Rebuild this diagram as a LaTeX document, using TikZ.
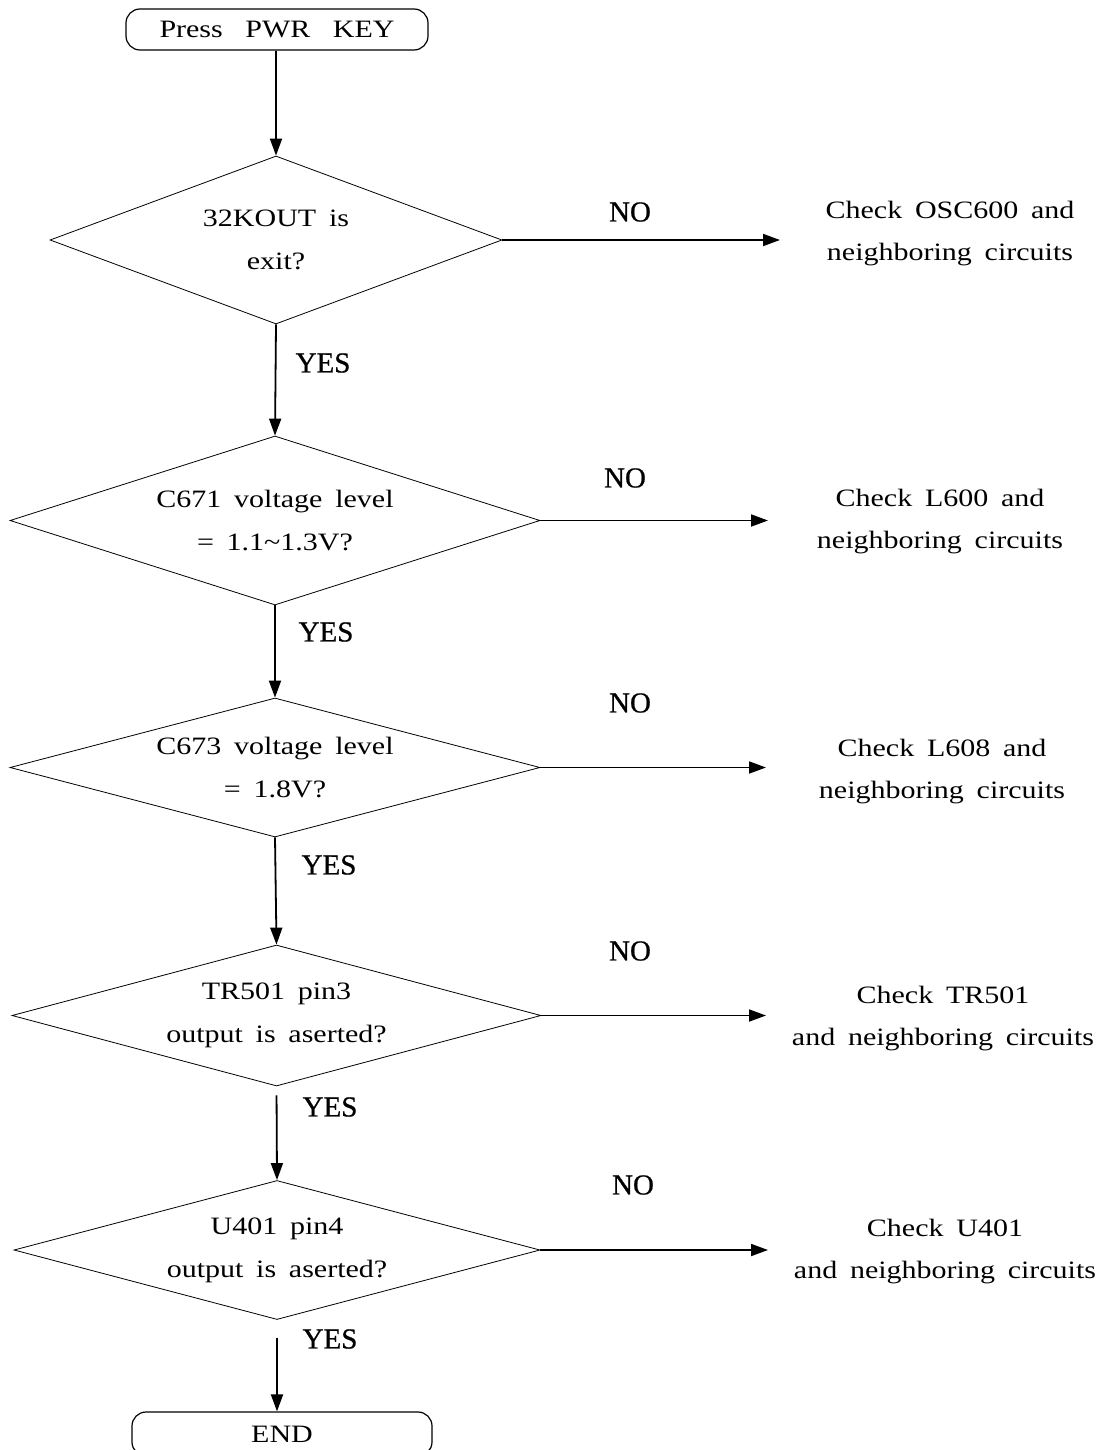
\documentclass[tikz,border=0pt]{standalone}
\usepackage{fontspec}
\setmainfont{Liberation Serif}[FakeStretch=1.2,WordSpace=1.7]
\newfontfamily\lblfont{Liberation Serif}[FakeBold=0.7]
\usetikzlibrary{shapes.geometric,arrows.meta}
\begin{document}
\begin{tikzpicture}[x=1pt,y=-1pt,
  txt/.style={font=\fontsize{25}{42}\selectfont,align=center,inner sep=0pt},
  term/.style={draw,line width=1.2pt,rounded corners=14pt,minimum height=41pt,inner sep=0pt,font=\fontsize{25}{30}\selectfont},
  dec/.style={draw,diamond,line width=0.8pt,inner sep=0pt,font=\fontsize{25}{43}\selectfont,align=center},
  conn/.style={line width=1.8pt,-{Triangle[length=17pt,width=12pt]}},
  lbl/.style={font=\lblfont\fontsize{29}{30}\selectfont,inner sep=0pt}
]
\useasboundingbox (0,0) rectangle (1107,1450);
% terminals
\node[term,minimum width=302pt] (start) at (277,29.5) {Press\hspace{0.9em}PWR\hspace{0.9em}KEY};
\node[term,minimum width=300pt,minimum height=44pt] (end) at (282,1434) {END};
% decisions
\node[dec,aspect=2.7,minimum width=452pt,minimum height=168pt] (d1) at (276,240) {32KOUT is\\exit?};
\node[dec,aspect=3.1,minimum width=530pt,minimum height=169pt] (d2) at (275,520.5) {C671 voltage level\\= 1.1\char`~1.3V?};
\node[dec,aspect=3.8,minimum width=530pt,minimum height=139pt] (d3) at (275,767.5) {C673 voltage level\\= 1.8V?};
\node[dec,aspect=3.75,minimum width=529pt,minimum height=141pt] (d4) at (276.5,1015.5) {TR501 pin3\\output is aserted?};
\node[dec,aspect=3.8,minimum width=526pt,minimum height=139pt] (d5) at (277,1250) {U401 pin4\\output is aserted?};
% check texts
\node[txt] (c1) at (950,234) {Check OSC600 and\\neighboring circuits};
\node[txt] (c2) at (940,522) {Check L600 and\\neighboring circuits};
\node[txt] (c3) at (942,772) {Check L608 and\\neighboring circuits};
\node[txt] (c4) at (943,1019) {Check TR501\\and neighboring circuits};
\node[txt] (c5) at (945,1252) {Check U401\\and neighboring circuits};
% free ends of NO arrows
\coordinate (e1) at (780,237);
\coordinate (e2) at (768,519);
\coordinate (e3) at (766,768);
\coordinate (e4) at (766,1015);
\coordinate (e5) at (768,1250);
% vertical connectors
\draw[conn] (d1.north |- start.south) -- (d1.north);
\draw[conn] (d1.south) -- (d2.north);
\draw[conn] (d2.south) -- (d3.north);
\draw[conn] (d3.south) -- (d4.north);
\draw[conn,shorten <=9pt] (d4.south) -- (d5.north);
\draw[conn,shorten <=18pt] (d5.south) -- (d5.south |- end.north);
% NO connectors
\draw[conn] (d1.east) -- (d1.east -| e1);
\draw[conn] (d2.east) -- (d2.east -| e2);
\draw[conn] (d3.east) -- (d3.east -| e3);
\draw[conn] (d4.east) -- (d4.east -| e4);
\draw[conn] (d5.east) -- (d5.east -| e5);
% labels
\node[lbl] (n1) at (630,212) {NO};
\node[lbl] (n2) at (625,478) {NO};
\node[lbl] (n3) at (630,703) {NO};
\node[lbl] (n4) at (630,951) {NO};
\node[lbl] (n5) at (633,1185) {NO};
\node[lbl] (y1) at (323,363) {YES};
\node[lbl] (y2) at (326,632) {YES};
\node[lbl] (y3) at (329,865) {YES};
\node[lbl] (y4) at (330,1107) {YES};
\node[lbl] (y5) at (330,1339) {YES};
\end{tikzpicture}
\end{document}
